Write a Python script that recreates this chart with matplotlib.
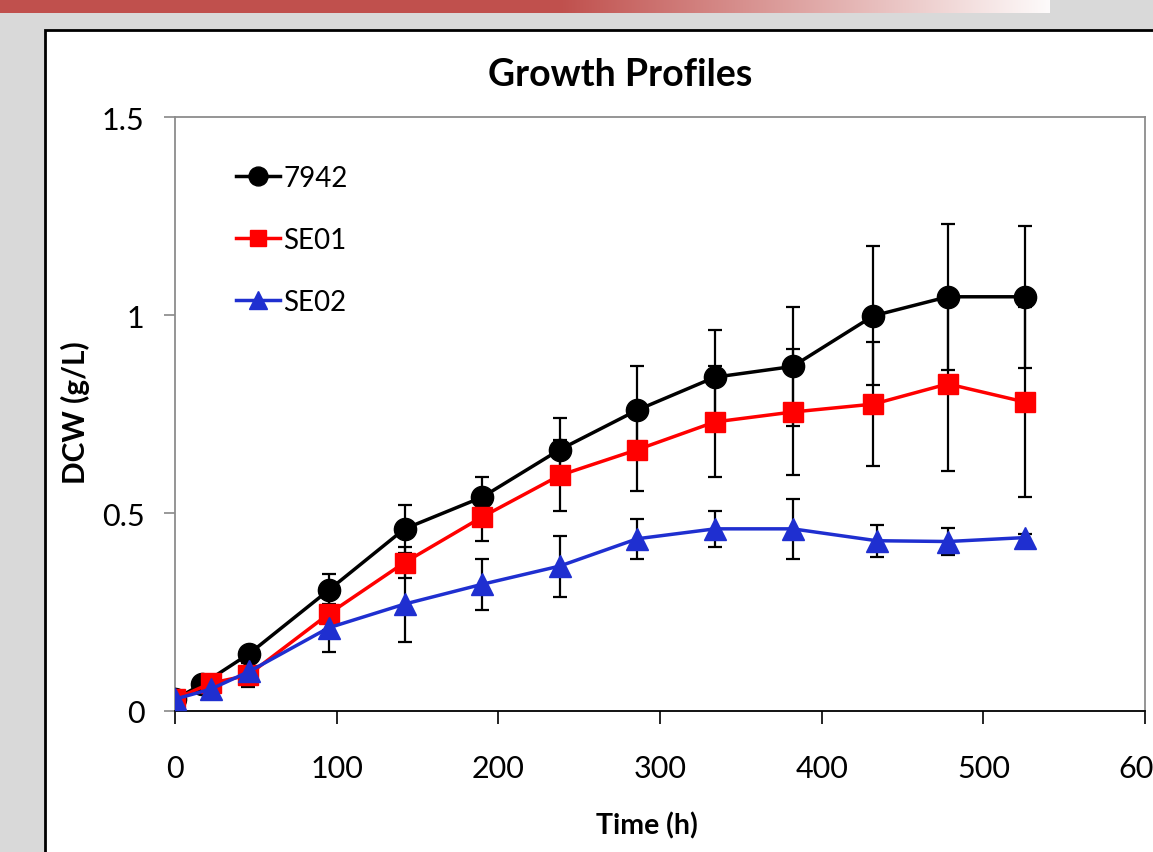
import numpy as np
import matplotlib
matplotlib.use('Agg')
import matplotlib.pyplot as plt
from matplotlib.patches import Rectangle

plt.rcParams['font.family'] = ['Lato', 'DejaVu Sans']

# time points (h)
t_7942 = [0, 17, 46, 95, 142, 190, 238, 286, 334, 382, 432, 478, 526]
t_se01 = [0, 22, 45, 95, 142, 190, 238, 286, 334, 382, 432, 478, 526]
t_se02 = [0, 22, 46, 95, 142, 190, 238, 286, 334, 382, 434, 478, 526]

dcw_7942 = [0.03, 0.068, 0.145, 0.305, 0.46, 0.54, 0.66, 0.76, 0.843, 0.87, 0.998, 1.046, 1.046]
err_7942 = [0.0, 0.0, 0.0, 0.04, 0.06, 0.05, 0.08, 0.11, 0.12, 0.15, 0.175, 0.185, 0.18]

dcw_se01 = [0.03, 0.07, 0.09, 0.245, 0.375, 0.49, 0.595, 0.66, 0.73, 0.755, 0.775, 0.826, 0.78]
err_se01 = [0.0, 0.0, 0.03, 0.04, 0.04, 0.06, 0.09, 0.105, 0.14, 0.16, 0.157, 0.22, 0.24]

dcw_se02 = [0.03, 0.055, 0.10, 0.21, 0.27, 0.32, 0.366, 0.435, 0.46, 0.46, 0.43, 0.428, 0.438]
err_se02 = [0.0, 0.0, 0.0, 0.06, 0.095, 0.065, 0.077, 0.05, 0.045, 0.075, 0.04, 0.035, 0.01]

fig = plt.figure(figsize=(11.53, 8.53), dpi=100)
fig.patch.set_facecolor('#d9d9d9')

# red banner at the top of the slide
bg = fig.add_axes([0, 0, 1, 1], zorder=-10)
bg.set_xlim(0, 1153)
bg.set_ylim(853, 0)
bg.axis('off')
grad = np.ones((1, 1153, 4))
red = np.array([0.753, 0.314, 0.302])
for i in range(1153):
    f = 0.0 if i < 560 else min(1.0, (i - 560) / 500.0)
    grad[0, i, :3] = red * (1 - f) + np.array([1, 1, 1]) * f
    grad[0, i, 3] = 1.0 if i < 1050 else 0.0
bg.imshow(grad, extent=[0, 1153, 14, 0], aspect='auto')
bg.add_patch(Rectangle((45, 31), 1200, 900, facecolor='white', edgecolor='black', lw=2))

ax = fig.add_axes([175 / 1153, 1 - 712 / 853, 970 / 1153, (712 - 118) / 853])
ax.set_facecolor('white')

def plot_series(t, y, e, color, marker, ms, label):
    ax.errorbar(t, y, yerr=e, fmt='none', ecolor='black', elinewidth=1.6,
                capsize=5, capthick=1.6, zorder=2)
    ax.plot(t, y, color=color, marker=marker, ms=ms, lw=2.5, label=label, zorder=3)

plot_series(t_7942, dcw_7942, err_7942, 'black', 'o', 16, '7942')
plot_series(t_se01, dcw_se01, err_se01, '#ff0000', 's', 14, 'SE01')
plot_series(t_se02, dcw_se02, err_se02, '#1f2fd0', '^', 16, 'SE02')

ax.set_xlim(0, 600)
ax.set_ylim(0, 1.5)
ax.set_xticks([0, 100, 200, 300, 400, 500, 600])
ax.set_yticks([0, 0.5, 1, 1.5])
ax.set_yticklabels(['0', '0.5', '1', '1.5'])
ax.tick_params(axis='x', direction='out', length=9, width=1.2, labelsize=22, pad=22, color='black')
ax.tick_params(axis='y', direction='out', length=8, width=1.2, labelsize=22, pad=14, color='#888888')
ax.spines['bottom'].set_color('black')
ax.spines['bottom'].set_linewidth(1.3)
for s in ['left', 'top', 'right']:
    ax.spines[s].set_color('#8c8c8c')
    ax.spines[s].set_linewidth(1.3)

leg = ax.legend(loc='upper left', bbox_to_anchor=(0.037, 0.962), frameon=False,
                fontsize=20, handlelength=1.6, handletextpad=0.1, labelspacing=1.3,
                markerscale=0.85)

fig.text(620 / 1153, 1 - 75 / 853, 'Growth Profiles', ha='center', va='center',
         fontsize=27, fontweight='bold')
fig.text(647 / 1153, 1 - 826 / 853, 'Time (h)', ha='center', va='center',
         fontsize=20.5, fontweight='bold')
fig.text(75 / 1153, 1 - 413 / 853, 'DCW (g/L)', ha='center', va='center',
         fontsize=21.5, fontweight='bold', rotation=90)

plt.savefig('out.png', dpi=100, facecolor=fig.get_facecolor())
